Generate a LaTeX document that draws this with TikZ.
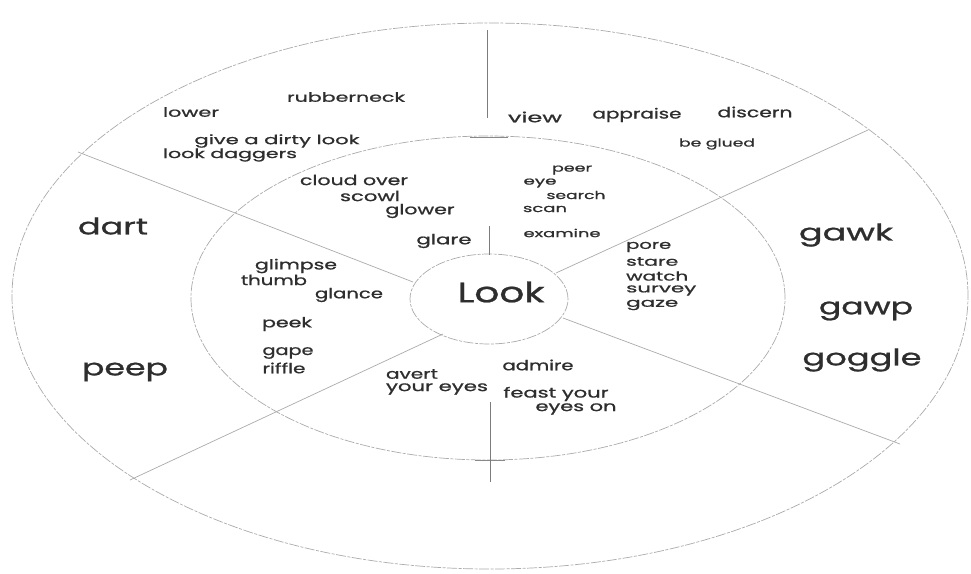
\documentclass[tikz,border=0pt]{standalone}
\usepackage{fontspec}
\setmainfont{Poppins}[FakeBold=0.8]
\usepackage{graphicx}
\definecolor{txt}{HTML}{2E2E2E}
\definecolor{ln}{HTML}{ABABAB}
\definecolor{vl}{HTML}{7C7C7C}
\newcommand\fitw[2]{\resizebox{#1pt}{\height}{#2}}
\tikzset{
  lbl/.style={inner sep=0pt, text=txt},
  tA/.style={lbl, font=\fontsize{11}{13}\selectfont},
  tB/.style={lbl, font=\fontsize{13}{15}\selectfont},
  tC/.style={lbl, font=\fontsize{14}{16}\selectfont},
  tR/.style={lbl, font=\fontsize{12.5}{14}\selectfont, anchor=west},
  tD/.style={lbl, font=\fontsize{23}{26}\selectfont},
  tE/.style={lbl, font=\fontsize{28}{32}\selectfont},
  ring/.style={draw=ln, line width=0.7pt, dash pattern=on 10pt off 1.5pt on 3pt off 1.5pt},
  spoke/.style={draw=ln, line width=0.7pt},
  axis/.style={draw=vl, line width=0.9pt}
}
\begin{document}
\begin{tikzpicture}[x=1pt,y=-1pt]
\fill[white] (0,0) rectangle (971,573);
\useasboundingbox (0,0) rectangle (971,573);

% rings
\draw[ring] (490,296) ellipse [x radius=478pt, y radius=273pt];
\draw[ring] (488,298) ellipse [x radius=297pt, y radius=162pt];
\draw[ring] (489,299) ellipse [x radius=79pt, y radius=45pt];

% short solid pieces on inner ring
\draw[axis, draw=ln!80!black] (470,137) -- (508,137);
\draw[axis, draw=ln!80!black] (475,460) -- (505,460);

% spoke end points
\coordinate (ulo) at (78,152);
\coordinate (uli) at (413,282);
\coordinate (uro) at (868,130);
\coordinate (uri) at (556,273);
\coordinate (lro) at (900,444);
\coordinate (lri) at (563,318);
\coordinate (llo) at (130,480);
\coordinate (lli) at (443,334);
\coordinate (t1) at (487,30);
\coordinate (t2) at (487,118);
\coordinate (m1) at (489,226);
\coordinate (m2) at (489,255);
\coordinate (b1) at (490,402);
\coordinate (b2) at (490,482);

\draw[spoke] (ulo) -- (uli);
\draw[spoke] (uro) -- (uri);
\draw[spoke] (lro) -- (lri);
\draw[spoke] (llo) -- (lli);
\draw[axis] (t1) -- (t2);
\draw[axis] (m1) -- (m2);
\draw[axis] (b1) -- (b2);

% centre
\node[tE] (look) at (501,292) {\fitw{87}{Look}};

% small tier
\node[tA] (peer) at (572,170) {\fitw{40}{peer}};
\node[tA] (eye) at (540,183) {\fitw{33}{eye}};
\node[tA] (search) at (576,195) {\fitw{59}{search}};
\node[tA] (scan) at (545,209) {\fitw{44}{scan}};
\node[tA] (examine) at (562,233) {\fitw{77}{examine}};
\node[tA] (beglued) at (717,144) {\fitw{76}{be glued}};

% upper left
\node[tB] (rubberneck) at (346,97) {\fitw{118}{rubberneck}};
\node[tB] (lower) at (191,112) {\fitw{56}{lower}};
\node[tB] (dirty) at (277,141) {\fitw{165}{give a dirty look}};
\node[tB] (daggers) at (230,155) {\fitw{134}{look daggers}};

% top right
\node[tC] (view) at (535,117) {\fitw{54}{view}};
\node[tC] (appraise) at (637,115) {\fitw{89}{appraise}};
\node[tC] (discern) at (755,112) {\fitw{75}{discern}};

% inner ring, upper left
\node[tC] (cloud) at (354,180) {\fitw{108}{cloud over}};
\node[tC] (scowl) at (370,196) {\fitw{60}{scowl}};
\node[tC] (glower) at (420,211) {\fitw{69}{glower}};
\node[tC] (glare) at (444,241) {\fitw{55}{glare}};

% inner ring, left
\node[tC] (glimpse) at (296,266) {\fitw{82}{glimpse}};
\node[tC] (thumb) at (274,280) {\fitw{66}{thumb}};
\node[tC] (glance) at (349,295) {\fitw{68}{glance}};
\node[tC] (peek) at (287,324) {\fitw{50}{peek}};
\node[tC] (gape) at (288,353) {\fitw{51}{gape}};
\node[tC] (riffle) at (284,368) {\fitw{43}{riffle}};

% inner ring, bottom
\node[tC] (avert) at (412,374) {\fitw{52}{avert}};
\node[tC] (youreyes) at (437,389) {\fitw{102}{your eyes}};
\node[tC] (admire) at (538,365) {\fitw{71}{admire}};
\node[tC] (feast) at (556,394) {\fitw{105}{feast your}};
\node[tC] (eyeson) at (576,409) {\fitw{81}{eyes on}};

% inner ring, right
\node[tR] (pore) at (626,247) {\fitw{45}{pore}};
\node[tR] (stare) at (626,261.5) {\fitw{52}{stare}};
\node[tR] (watch) at (626,276) {\fitw{62}{watch}};
\node[tR] (survey) at (626,290.5) {\fitw{70}{survey}};
\node[tR] (gaze) at (626,305) {\fitw{52}{gaze}};

% outer big words
\node[tD] (dart) at (113,226) {\fitw{70}{dart}};
\node[tD] (peep) at (125,372) {\fitw{86}{peep}};
\node[tD] (gawk) at (846,235) {\fitw{94}{gawk}};
\node[tD] (gawp) at (866,311) {\fitw{94}{gawp}};
\node[tD] (goggle) at (862,360) {\fitw{119}{goggle}};
\end{tikzpicture}
\end{document}
